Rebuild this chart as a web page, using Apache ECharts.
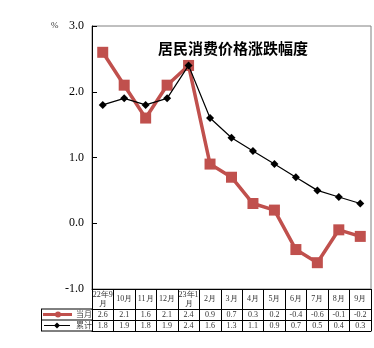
<!DOCTYPE html>
<html>
<head>
<meta charset="utf-8">
<script src="https://cdn.jsdelivr.net/npm/echarts@6/dist/echarts.min.js"></script>
<style>
  html, body { margin: 0; padding: 0; background: #fff; }
  #chart { width: 374px; height: 348px; }
</style>
</head>
<body>
<div id="chart"></div>
<script>
// Monthly and year-to-date consumer price change, %
const months = ['22年9\n月', '10月', '11月', '12月', '23年1\n月', '2月', '3月', '4月', '5月', '6月', '7月', '8月', '9月'];
const monthly = [2.6, 2.1, 1.6, 2.1, 2.4, 0.9, 0.7, 0.3, 0.2, -0.4, -0.6, -0.1, -0.2];
const cumulative = [1.8, 1.9, 1.8, 1.9, 2.4, 1.6, 1.3, 1.1, 0.9, 0.7, 0.5, 0.4, 0.3];
const yTicks = [-1, 0, 1, 2, 3];

const RED = '#C0504D';
const SERIF = 'Liberation Serif';
const CJK = 'Noto Sans CJK SC';

const chart = echarts.init(document.getElementById('chart'));

// grid box
const G = { left: 92, right: 3, top: 26, bottom: 59 };
const plotBottom = 348 - G.bottom;
const rowH1 = 20, rowH = 11;

const tableAxis = (offset, values, showLabel) => ({
  type: 'category',
  data: months,
  position: 'bottom',
  offset: offset,
  boundaryGap: true,
  axisLine: { show: true, onZero: false, lineStyle: { color: '#000', width: 1 } },
  axisTick: { show: false },
  splitLine: { show: false },
  axisLabel: {
    show: showLabel,
    interval: 0,
    margin: 6,
    verticalAlign: 'middle',
    fontFamily: SERIF,
    fontSize: 8,
    color: '#333',
    formatter: (v, i) => values ? values[i].toFixed(1) : ''
  }
});

chart.setOption({
  animation: false,
  backgroundColor: '#fff',
  title: {
    text: '居民消费价格涨跌幅度',
    left: 153,
    top: 36,
    textStyle: { fontFamily: CJK, fontSize: 15, fontWeight: 'bold', color: '#000' }
  },
  grid: {
    left: G.left, right: G.right, top: G.top, bottom: G.bottom,
    show: true, borderColor: '#808080', borderWidth: 1, backgroundColor: '#fff'
  },
  xAxis: [
    {
      type: 'category',
      data: months,
      position: 'bottom',
      boundaryGap: true,
      axisLine: { show: true, onZero: false, lineStyle: { color: '#000', width: 1 } },
      axisTick: { show: true, interval: 0, inside: false, length: rowH1 + 2 * rowH, lineStyle: { color: '#000', width: 1 } },
      axisLabel: {
        interval: 0,
        margin: rowH1 / 2,
        verticalAlign: 'middle',
        lineHeight: 9,
        fontFamily: SERIF,
        fontSize: 8,
        color: '#333'
      }
    },
    tableAxis(rowH1, monthly, true),
    tableAxis(rowH1 + rowH, cumulative, true),
    tableAxis(rowH1 + 2 * rowH, null, false)
  ],
  yAxis: {
    type: 'value',
    min: yTicks[0],
    max: yTicks[yTicks.length - 1],
    interval: 1,
    axisLine: { show: true, lineStyle: { color: '#000', width: 1 } },
    axisTick: { show: true, inside: true, length: 5, lineStyle: { color: '#000' } },
    splitLine: { show: false },
    axisLabel: {
      margin: 8,
      fontFamily: SERIF,
      fontSize: 12,
      color: '#000',
      formatter: v => v.toFixed(1)
    }
  },
  series: [
    {
      name: '当月',
      type: 'line',
      data: monthly,
      symbol: 'rect',
      symbolSize: 11,
      lineStyle: { color: RED, width: 3.5 },
      itemStyle: { color: RED },
      z: 2
    },
    {
      name: '累计',
      type: 'line',
      data: cumulative,
      symbol: 'diamond',
      symbolSize: 8,
      lineStyle: { color: '#000', width: 1.2 },
      itemStyle: { color: '#000' },
      z: 3
    }
  ],
  graphic: [
    // unit label
    { type: 'text', left: 51, top: 21, style: { text: '%', fontFamily: SERIF, fontSize: 9, fill: '#333' } },
    // legend cells of the data table
    { type: 'line', shape: { x1: 41, y1: plotBottom + rowH1, x2: G.left, y2: plotBottom + rowH1 }, style: { stroke: '#000', lineWidth: 1 } },
    { type: 'line', shape: { x1: 41, y1: plotBottom + rowH1 + rowH, x2: G.left, y2: plotBottom + rowH1 + rowH }, style: { stroke: '#000', lineWidth: 1 } },
    { type: 'line', shape: { x1: 41, y1: plotBottom + rowH1 + 2 * rowH, x2: G.left, y2: plotBottom + rowH1 + 2 * rowH }, style: { stroke: '#000', lineWidth: 1 } },
    { type: 'line', shape: { x1: 41.5, y1: plotBottom + rowH1, x2: 41.5, y2: plotBottom + rowH1 + 2 * rowH }, style: { stroke: '#000', lineWidth: 1 } },
    // 当月 key
    { type: 'line', shape: { x1: 43, y1: plotBottom + rowH1 + rowH / 2, x2: 72, y2: plotBottom + rowH1 + rowH / 2 }, style: { stroke: RED, lineWidth: 3 } },
    { type: 'circle', shape: { cx: 58, cy: plotBottom + rowH1 + rowH / 2, r: 3 }, style: { fill: RED } },
    { type: 'text', left: 76, top: plotBottom + rowH1 + 1, style: { text: '当月', fontFamily: CJK, fontSize: 8, fill: '#444' } },
    // 累计 key
    { type: 'line', shape: { x1: 44, y1: plotBottom + rowH1 + rowH * 1.5, x2: 70, y2: plotBottom + rowH1 + rowH * 1.5 }, style: { stroke: '#000', lineWidth: 1 } },
    { type: 'polygon', shape: { points: [[57, plotBottom + rowH1 + rowH * 1.5 - 3], [60, plotBottom + rowH1 + rowH * 1.5], [57, plotBottom + rowH1 + rowH * 1.5 + 3], [54, plotBottom + rowH1 + rowH * 1.5]] }, style: { fill: '#000' } },
    { type: 'text', left: 76, top: plotBottom + rowH1 + rowH + 1, style: { text: '累计', fontFamily: CJK, fontSize: 8, fill: '#444' } }
  ]
});
</script>
</body>
</html>
